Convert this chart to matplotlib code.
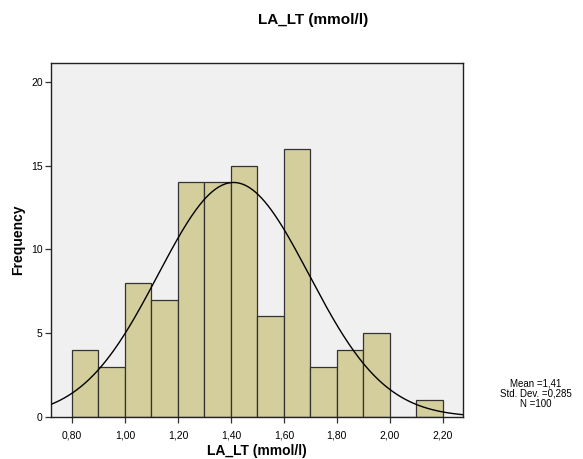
import matplotlib
matplotlib.use("Agg")
import matplotlib.pyplot as plt
import numpy as np

plt.rcParams['font.family'] = ['Liberation Sans', 'DejaVu Sans']

# histogram bins (left edges) and frequencies
bin_left = [0.8, 0.9, 1.0, 1.1, 1.2, 1.3, 1.4, 1.5, 1.6, 1.7, 1.8, 1.9, 2.0, 2.1]
counts = [4, 3, 8, 7, 14, 14, 15, 6, 16, 3, 4, 5, 0, 1]
bin_width = 0.1

mean = 1.41
std = 0.285
n = 100

x_ticks = [0.8, 1.0, 1.2, 1.4, 1.6, 1.8, 2.0, 2.2]
x_labels = ['0,80', '1,00', '1,20', '1,40', '1,60', '1,80', '2,00', '2,20']
y_ticks = [0, 5, 10, 15, 20]

fig = plt.figure(figsize=(5.83, 4.59), dpi=100)
ax = fig.add_axes([51/583, 1 - 417/459, (463 - 51)/583, (417 - 63)/459])
ax.set_facecolor('#f0f0f0')

ax.bar(bin_left, counts, width=bin_width, align='edge',
       color='#d3ce9b', edgecolor='#333333', linewidth=0.9, zorder=2)

xmin, xmax = 0.721, 2.276
xs = np.linspace(xmin, xmax, 400)
ys = n * bin_width / (std * np.sqrt(2 * np.pi)) * np.exp(-0.5 * ((xs - mean) / std) ** 2)
ax.plot(xs, ys, color='black', linewidth=1.0, zorder=3)

ax.set_xlim(xmin, xmax)
ax.set_ylim(0, 21.13)
ax.set_xticks(x_ticks)
ax.set_xticklabels(x_labels)
ax.set_yticks(y_ticks)
ax.tick_params(labelsize=7.5, length=4, width=0.9, color='#333333', pad=2)
ax.tick_params(axis='x', pad=6)
for s in ax.spines.values():
    s.set_linewidth(1.0)
    s.set_color('#222222')

ax.set_xlabel('LA_LT (mmol/l)', fontsize=10, fontweight='bold', labelpad=2)
ax.set_ylabel('Frequency', fontsize=10, fontweight='bold', labelpad=4)
fig.text(313/583, 1 - 20/459, 'LA_LT (mmol/l)', fontsize=11, fontweight='bold',
         ha='center', va='center')

fig.text(536/583, 1 - 394/459,
         'Mean =%s\nStd. Dev. =%s\nN =%d' % ('1,41', '0,285', n),
         fontsize=7, ha='center', va='center', linespacing=1.0)

fig.savefig('out.png', dpi=100)
